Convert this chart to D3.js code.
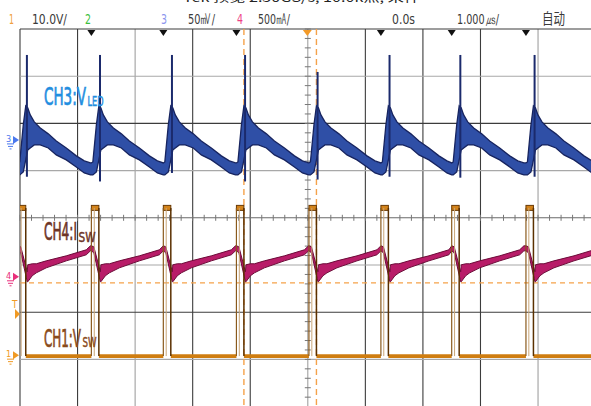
<!DOCTYPE html>
<html><head><meta charset="utf-8">
<script src="https://cdn.jsdelivr.net/npm/d3@7"></script>
<style>body{margin:0;background:#fff}svg{display:block}</style>
</head><body><svg id="c" width="591" height="406"></svg>
<script>
// ---------------- data ----------------
// time axis in microseconds (1.000 us/div), 0 = trigger (screen centre)
const gridTimeTicks = [-5,-4,-3,-2,-1,0,1,2,3,4,5];
const gridDivTicks = [-4,-3,-2,-1,0,1,2,3,4];
// rising edges of the switch-node pulses (us)
const edgesUs = [-6.28, -5.03, -3.76, -2.51, -1.24, 0.02, 1.27, 2.50, 3.79];
const pulseWidthUs = 0.13;
// CH1 V_SW (V)
const ch1Low = -0.2, ch1High = 31.2;
// CH3 V_LED ripple (mV) : one switching period, offsets in us from the edge
const ch3Offsets = [0, 0.026, 0.087, 0.130, 0.165, 0.208, 0.278, 0.382, 0.521, 0.660, 0.834, 1.008, 1.147, 1.254];
const ch3Upper   = [-24.4, -23.3, 15.9, 36.0, 33.9, 26.5, 19.1, 12.7, 6.4, -1.1, -8.5, -16.9, -22.2, -24.4];
const ch3Lower   = [-37.1, -37.1, -33.9, -21.2, -10.6, -8.5, -5.3, -5.3, -8.5, -15.9, -21.2, -28.6, -35.0, -37.1];
const ch3SpikeOffset = 0.15;
const ch3SpikeTop    = [90, 90, 90, 90, 90, 72, 90, 90, 90];
const ch3SpikeBottom = [-39, -39, -44, -35, -44, -42, -39, -40, -39];
// CH4 I_SW (mA)
const ch4Offsets = [0, 0.043, 0.156, 0.165, 0.243, 0.313, 0.486, 0.834, 1.181, 1.254];
const ch4Upper   = [328, 318, 53, 127, 138, 138, 169, 222, 286, 328];
const ch4Lower   = [275, 254, -53, -53, 11, 42, 95, 169, 233, 275];
// channel settings: scale per division and position (div from centre)
const ch1PerDiv = 10, ch1Pos = -2.91;
const ch3PerDiv = 50, ch3Pos = 1.65;
const ch4PerDiv = 500, ch4Pos = -1.25;
const triggerLevelDiv = -1.38;
const cursorTimes = [-1.11, 0.15];
const markerEdges = [-3.76, -2.51, -1.24, 1.27, 2.50, 3.79];
// header texts
const headerItems = [
  {t:"1", x:9, w:5, c:"#f0a040"},
  {t:"10.0V/", x:32, w:35, c:"#3a3a3a"},
  {t:"2", x:85, w:6, c:"#3cbf3c"},
  {t:"3", x:161, w:6, c:"#8c96ee"},
  {t:"50\u33B7/", x:188, w:27, c:"#3a3a3a"},
  {t:"4", x:237, w:6, c:"#ee3f86"},
  {t:"500\u3383/", x:258, w:32, c:"#3a3a3a"},
  {t:"0.0s", x:392, w:23, c:"#3a3a3a"},
  {t:"1.000\u33B2/", x:457, w:42, c:"#3a3a3a"},
  {t:"自动", x:542, w:23, c:"#3a3a3a"}
];

// ---------------- drawing ----------------
const svg = d3.select("#c");
const L = 20, DX = 57.56, T = 29, DY = 47.2;
const x = d3.scaleLinear().domain([-5, 5]).range([L, L + 10*DX]);
const yDiv = d3.scaleLinear().domain([-4, 4]).range([T + 8*DY, T]);
function chScale(perDiv, pos){
  return d3.scaleLinear().domain([(-4-pos)*perDiv, (4-pos)*perDiv]).range([T + 8*DY, T]);
}
const y1 = chScale(ch1PerDiv, ch1Pos), y3 = chScale(ch3PerDiv, ch3Pos), y4 = chScale(ch4PerDiv, ch4Pos);

svg.append("rect").attr("width",591).attr("height",406).attr("fill","#fff");

// cut-off status line at the very top (only its lower edge is visible)
svg.append("text").attr("x",183).attr("y",1.5).attr("font-family","'Noto Sans CJK SC', 'DejaVu Sans'")
  .attr("font-size",12).attr("fill","#222").attr("textLength",237).attr("lengthAdjust","spacingAndGlyphs")
  .text("Tek  预览  2.50GS/s,  10.0k点,  采样");

headerItems.forEach(h => {
  svg.append("text").attr("x",h.x).attr("y",23.5).attr("fill",h.c)
    .attr("font-family", /[\u4e00-\u9fff]/.test(h.t) ? "'Noto Sans CJK SC'" : "'DejaVu Sans Condensed','DejaVu Sans'")
    .attr("font-size",14.5).attr("textLength",h.w).attr("lengthAdjust","spacingAndGlyphs").text(h.t);
});

// grid
const g = svg.append("g");
const darkV = new Set([-5,-4,-2,-1,1,2,3]);
gridTimeTicks.forEach(t => {
  g.append("line").attr("x1",x(t)).attr("x2",x(t)).attr("y1",T).attr("y2",406)
    .attr("stroke", darkV.has(t) ? "#3c3c3c" : "#a0a0a0").attr("stroke-width",1.1);
});
const darkH = new Set([4,2,-2]);
gridDivTicks.forEach(d => {
  g.append("line").attr("x1",L).attr("x2",591).attr("y1",yDiv(d)).attr("y2",yDiv(d))
    .attr("stroke", darkH.has(d) ? "#3c3c3c" : (d===0 ? "#6a6a6a" : "#a8a8a8")).attr("stroke-width",1.1);
});
// centre-axis minor ticks
d3.range(-5, 5.01, 0.2).forEach(t => {
  g.append("line").attr("x1",x(t)).attr("x2",x(t)).attr("y1",yDiv(0)-3).attr("y2",yDiv(0)+3)
    .attr("stroke","#777").attr("stroke-width",1);
});
d3.range(-4, 4.01, 0.2).forEach(d => {
  g.append("line").attr("x1",x(0)-3).attr("x2",x(0)+3).attr("y1",yDiv(d)).attr("y2",yDiv(d))
    .attr("stroke","#777").attr("stroke-width",1);
});

// top triangles
markerEdges.forEach(t => {
  svg.append("path").attr("d",`M${x(t)-4},${T+1}L${x(t)+4},${T+1}L${x(t)},${T+7}Z`).attr("fill","#111");
});
svg.append("path").attr("d",`M${x(0)-5},${T+1}L${x(0)+4},${T+1}L${x(0)-0.5},${T+7}Z`).attr("fill","#f39a28");

// clip
svg.append("clipPath").attr("id","clp").append("rect").attr("x",L).attr("y",T).attr("width",591-L).attr("height",406-T);
const plot = svg.append("g").attr("clip-path","url(#clp)");

// cursors and trigger level
cursorTimes.forEach(t => {
  plot.append("line").attr("x1",x(t)).attr("x2",x(t)).attr("y1",T).attr("y2",406)
    .attr("stroke","#f5a24a").attr("stroke-width",1.4).attr("stroke-dasharray","6,4");
});
plot.append("line").attr("x1",L).attr("x2",591).attr("y1",yDiv(triggerLevelDiv)).attr("y2",yDiv(triggerLevelDiv))
  .attr("stroke","#f5a24a").attr("stroke-width",1.2).attr("stroke-dasharray","5,4");

// band builder
function buildBand(offsets, upper, lower){
  const pts = [];
  edgesUs.forEach((e, k) => {
    const next = k < edgesUs.length-1 ? edgesUs[k+1] : Infinity;
    offsets.forEach((o, i) => {
      if (e + o < next - 1e-6 || (k === edgesUs.length-1)) pts.push({t:e+o, hi:upper[i], lo:lower[i]});
    });
  });
  return pts;
}

// CH3 band
const ch3Pts = buildBand(ch3Offsets, ch3Upper, ch3Lower);
plot.append("path").datum(ch3Pts)
  .attr("d", d3.area().x(d=>x(d.t)).y0(d=>y3(d.lo)).y1(d=>y3(d.hi)))
  .attr("fill","#2f4fa6").attr("stroke","#17245f").attr("stroke-width",1.3);
edgesUs.forEach((e,k) => {
  plot.append("line").attr("x1",x(e+ch3SpikeOffset)).attr("x2",x(e+ch3SpikeOffset))
    .attr("y1",y3(ch3SpikeTop[k])).attr("y2",y3(ch3SpikeBottom[k]))
    .attr("stroke","#1b2a6c").attr("stroke-width",2);
});

// CH4 band
const ch4Pts = buildBand(ch4Offsets, ch4Upper, ch4Lower);
plot.append("path").datum(ch4Pts)
  .attr("d", d3.area().x(d=>x(d.t)).y0(d=>y4(d.lo)).y1(d=>y4(d.hi)))
  .attr("fill","#b81c68").attr("stroke","#6c0c38").attr("stroke-width",1);

// CH1 pulses
edgesUs.forEach((e,k) => {
  const r = e + pulseWidthUs;
  const next = k < edgesUs.length-1 ? edgesUs[k+1] : 6;
  plot.append("line").attr("x1",x(r)).attr("x2",x(next)).attr("y1",y1(ch1Low)).attr("y2",y1(ch1Low))
    .attr("stroke","#cf7d10").attr("stroke-width",3.8);
  plot.append("rect").attr("x",x(e)).attr("y",y1(ch1High)-2.5).attr("width",x(r)-x(e)).attr("height",5)
    .attr("fill","#d3831a").attr("stroke","#6a3a05").attr("stroke-width",1);
  plot.append("line").attr("x1",x(e)).attr("x2",x(e)).attr("y1",y1(ch1High)).attr("y2",y1(ch1Low))
    .attr("stroke","#8a5a1c").attr("stroke-width",1.2);
  plot.append("line").attr("x1",x(e+0.05)).attr("x2",x(e+0.05)).attr("y1",y1(ch1High)).attr("y2",y1(ch1Low))
    .attr("stroke","#c9a678").attr("stroke-width",1);
  plot.append("line").attr("x1",x(r)).attr("x2",x(r)).attr("y1",y1(ch1High)).attr("y2",y1(ch1Low))
    .attr("stroke","#5a3000").attr("stroke-width",1.5);
});

// channel labels (one text element each, subscript as a tspan)
function label(main, sub, xm, wm, ws, base, subBase, col){
  const t = svg.append("text").attr("y",base).attr("fill",col)
    .attr("font-family","'DejaVu Sans Condensed','DejaVu Sans'")
    .attr("stroke",col);
  t.append("tspan").attr("x",xm).attr("y",base).attr("font-size",24).attr("stroke-width",0.7)
    .attr("textLength",wm).attr("lengthAdjust","spacingAndGlyphs").text(main);
  t.append("tspan").attr("x",xm+wm+1.5).attr("y",subBase).attr("font-size",14).attr("stroke-width",0.5)
    .attr("textLength",ws).attr("lengthAdjust","spacingAndGlyphs").text(sub);
}
label("CH3:V","LED",44,42,16,105,106,"#1f8ee0");
label("CH4:I","SW",44,33,17,240,242,"#6e3426");
label("CH1:V","SW",44,37,14,347,347,"#8a4a1a");

// left channel markers
function marker(num, yy, col){
  const m = svg.append("g").attr("fill",col).attr("stroke",col);
  m.append("text").attr("x",6).attr("y",yy+2).attr("font-size",9).attr("stroke","none")
    .attr("font-family","'DejaVu Sans Condensed','DejaVu Sans'").text(num);
  m.append("path").attr("d",`M13,${yy-4}L19,${yy}L13,${yy+4}Z`).attr("stroke","none");
  m.append("line").attr("x1",7).attr("x2",14).attr("y1",yy+4).attr("y2",yy+4).attr("stroke-width",1);
  m.append("line").attr("x1",8).attr("x2",13).attr("y1",yy+6.5).attr("y2",yy+6.5).attr("stroke-width",1);
  m.append("line").attr("x1",9.5).attr("x2",11.5).attr("y1",yy+9).attr("y2",yy+9).attr("stroke-width",1);
}
marker("3", y3(0), "#4a78ee");
marker("4", y4(0), "#e8307c");
marker("1", y1(0), "#f09a24");
// trigger marker
svg.append("text").attr("x",12).attr("y",308).attr("font-size",10).attr("fill","#f09a24")
  .attr("font-family","'DejaVu Sans Condensed','DejaVu Sans'").text("T");
svg.append("path").attr("d","M15,309L20,314L15,319Z").attr("fill","#f09a24");
</script></body></html>
